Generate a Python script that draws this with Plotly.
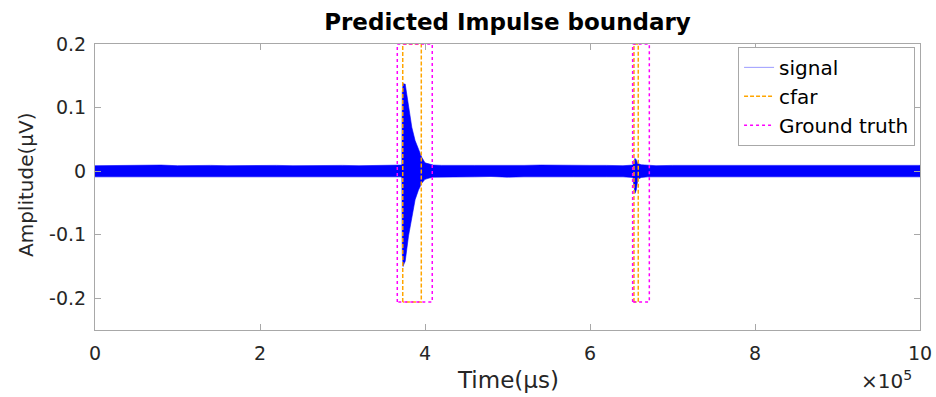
import plotly.graph_objects as go

# ---------------- data ----------------
# signal envelope (upper / lower extent of the dense noisy trace), time in microseconds
env_x = [0.00e5, 0.20e5, 0.40e5, 0.60e5, 0.80e5, 1.00e5, 1.20e5, 1.40e5, 1.60e5, 1.80e5,
         2.00e5, 2.20e5, 2.40e5, 2.60e5, 2.80e5, 3.00e5, 3.20e5, 3.40e5, 3.60e5, 3.70e5,
         3.72e5, 3.725e5, 3.735e5, 3.745e5, 3.76e5, 3.78e5, 3.80e5, 3.84e5, 3.88e5, 3.92e5,
         3.96e5, 4.00e5, 4.05e5, 4.10e5, 4.20e5, 4.40e5, 4.60e5, 4.80e5, 5.00e5, 5.20e5,
         5.40e5, 5.60e5, 5.80e5, 6.00e5, 6.20e5, 6.40e5, 6.52e5, 6.545e5, 6.56e5, 6.58e5,
         6.62e5, 6.70e5, 6.80e5, 7.00e5, 7.20e5, 7.40e5, 7.60e5, 7.80e5, 8.00e5, 8.20e5,
         8.40e5, 8.60e5, 8.80e5, 9.00e5, 9.20e5, 9.40e5, 9.60e5, 9.80e5, 10.00e5]
env_upper = [0.0085, 0.0090, 0.0085, 0.0090, 0.0095, 0.0085, 0.0090, 0.0090, 0.0085, 0.0090,
             0.0090, 0.0090, 0.0085, 0.0090, 0.0095, 0.0090, 0.0085, 0.0090, 0.0090, 0.0090,
             0.0095, 0.125, 0.138, 0.137, 0.137, 0.120, 0.100, 0.069, 0.048, 0.036,
             0.022, 0.013, 0.011, 0.0095, 0.0090, 0.0085, 0.0090, 0.0090, 0.0085, 0.0090,
             0.0095, 0.0090, 0.0085, 0.0090, 0.0090, 0.0085, 0.0095, 0.020, 0.018, 0.012,
             0.0100, 0.0090, 0.0085, 0.0090, 0.0090, 0.0095, 0.0085, 0.0090, 0.0090, 0.0090,
             0.0085, 0.0090, 0.0090, 0.0085, 0.0090, 0.0090, 0.0095, 0.0090, 0.0090]
env_lower = [-0.0090, -0.0085, -0.0090, -0.0090, -0.0085, -0.0095, -0.0090, -0.0085, -0.0090, -0.0090,
             -0.0085, -0.0090, -0.0090, -0.0095, -0.0085, -0.0090, -0.0090, -0.0085, -0.0090, -0.0090,
             -0.0095, -0.130, -0.150, -0.146, -0.142, -0.122, -0.102, -0.071, -0.045, -0.030,
             -0.019, -0.013, -0.011, -0.0095, -0.0085, -0.0090, -0.0090, -0.0085, -0.0095, -0.0090,
             -0.0085, -0.0090, -0.0090, -0.0085, -0.0090, -0.0090, -0.0100, -0.035, -0.030, -0.013,
             -0.0100, -0.0090, -0.0090, -0.0085, -0.0090, -0.0090, -0.0095, -0.0090, -0.0085, -0.0090,
             -0.0090, -0.0085, -0.0095, -0.0090, -0.0090, -0.0085, -0.0090, -0.0090, -0.0090]

# detection boxes (start / end times in microseconds)
cfar_start = [3.730e5, 6.533e5]
cfar_end = [3.955e5, 6.585e5]
gt_start = [3.664e5, 6.517e5]
gt_end = [4.088e5, 6.719e5]
box_top = 0.2
box_bottom = -0.206

x_tick_vals = [0, 2e5, 4e5, 6e5, 8e5, 10e5]
x_tick_text = ["0", "2", "4", "6", "8", "10"]
y_tick_vals = [-0.2, -0.1, 0, 0.1, 0.2]
y_tick_text = ["-0.2", "-0.1", "0", "0.1", "0.2"]


def rect_path(starts, ends, top, bottom):
    xs, ys = [], []
    for s, e in zip(starts, ends):
        xs += [s, s, e, e, s, None]
        ys += [bottom, top, top, bottom, bottom, None]
    return xs, ys


FONT = "DejaVu Sans"
AXIS_GRAY = "#a8a8a8"
TEXT = "#262626"

fig = go.Figure()

# signal band
fig.add_trace(go.Scatter(
    x=env_x + env_x[::-1],
    y=env_upper + env_lower[::-1],
    mode="lines", fill="toself", fillcolor="#0000ff",
    line=dict(color="#0000ff", width=0.6),
    showlegend=False, hoverinfo="skip",
))
# legend entry for signal
fig.add_trace(go.Scatter(x=[None], y=[None], mode="lines", name="signal",
                         line=dict(color="rgba(90,90,255,0.6)", width=1)))

cx, cy = rect_path(cfar_start, cfar_end, box_top, box_bottom)
fig.add_trace(go.Scatter(x=cx, y=cy, mode="lines", name="cfar",
                         line=dict(color="#FFA500", width=1.5, dash="4px,2px")))

gx, gy = rect_path(gt_start, gt_end, box_top, box_bottom)
fig.add_trace(go.Scatter(x=gx, y=gy, mode="lines", name="Ground truth",
                         line=dict(color="#FF00FF", width=1.5, dash="dot")))

fig.update_layout(
    width=936, height=397,
    margin=dict(l=95, r=16, t=44, b=67, autoexpand=False),
    paper_bgcolor="white", plot_bgcolor="white",
    font=dict(family=FONT, color=TEXT),
    title=dict(text="<b>Predicted Impulse boundary</b>", x=0.5, xref="paper",
               xanchor="center", y=1 - 22 / 397, yref="container", yanchor="middle",
               font=dict(family=FONT, size=23, color="black")),
    legend=dict(x=0.994, xanchor="right", y=0.99, yanchor="top",
                bgcolor="white", bordercolor=AXIS_GRAY, borderwidth=1,
                font=dict(family=FONT, size=20, color="black"),
                tracegroupgap=0, itemwidth=30),
    showlegend=True,
)

fig.update_xaxes(
    range=[0, 10e5], tickvals=x_tick_vals, ticktext=x_tick_text,
    showgrid=False, zeroline=False,
    showline=True, linecolor=AXIS_GRAY, linewidth=1, mirror="ticks",
    ticks="inside", ticklen=6, tickcolor=AXIS_GRAY,
    tickfont=dict(family=FONT, size=19, color=TEXT), ticklabelstandoff=6,
)
fig.update_yaxes(
    range=[-0.25, 0.2], tickvals=y_tick_vals, ticktext=y_tick_text,
    showgrid=False, zeroline=False,
    showline=True, linecolor=AXIS_GRAY, linewidth=1, mirror="ticks",
    ticks="inside", ticklen=6, tickcolor=AXIS_GRAY,
    tickfont=dict(family=FONT, size=19, color=TEXT), ticklabelstandoff=4,
)

fig.add_annotation(text="Time(μs)", xref="paper", yref="paper",
                   x=0.5, y=(330 - 380) / 286, xanchor="center", yanchor="middle",
                   showarrow=False, font=dict(family=FONT, size=23, color=TEXT))
fig.add_annotation(text="Amplitude(μV)", xref="paper", yref="paper",
                   x=(26 - 95) / 825, y=(330 - 185) / 286, xanchor="center", yanchor="middle",
                   textangle=-90, showarrow=False, font=dict(family=FONT, size=20, color=TEXT))
fig.add_annotation(text="×10<sup>5</sup>", xref="paper", yref="paper",
                   x=(914 - 95) / 825, y=(330 - 380) / 286, xanchor="right", yanchor="middle",
                   showarrow=False, font=dict(family=FONT, size=20, color=TEXT))

fig.write_html("out.html", config={"displayModeBar": False},
               post_script="document.body.style.margin='0';document.body.style.overflow='hidden';")
